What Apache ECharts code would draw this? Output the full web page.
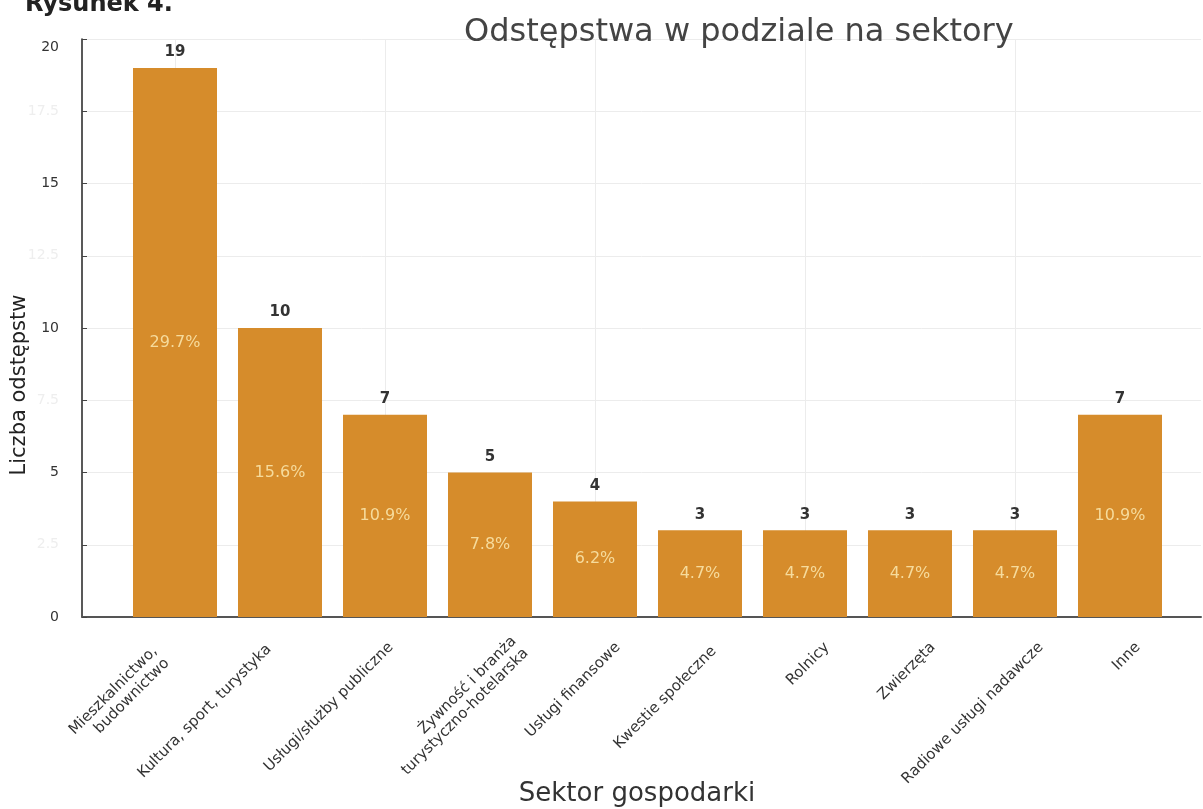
<!DOCTYPE html>
<html>
<head>
<meta charset="utf-8">
<script src="https://cdn.jsdelivr.net/npm/echarts@6/dist/echarts.min.js"></script>
<style>
  html, body { margin: 0; padding: 0; background: #ffffff; }
  #chart { width: 1203px; height: 809px; }
</style>
</head>
<body>
<div id="chart"></div>
<script>
// Sector categories (x axis)
const categories = [
  'Mieszkalnictwo,\nbudownictwo',
  'Kultura, sport, turystyka',
  'Usługi/służby publiczne',
  'Żywność i branża\nturystyczno-hotelarska',
  'Usługi finansowe',
  'Kwestie społeczne',
  'Rolnicy',
  'Zwierzęta',
  'Radiowe usługi nadawcze',
  'Inne'
];
// Number of derogations per sector
const counts = [19, 10, 7, 5, 4, 3, 3, 3, 3, 7];
// Share of all derogations, in percent (as printed inside the bars)
const shares = [29.7, 15.6, 10.9, 7.8, 6.2, 4.7, 4.7, 4.7, 4.7, 10.9];
// Value axis range and step
const yMin = 0;
const yMax = 20;
const yStep = 2.5;

const FONT = 'DejaVu Sans';
const BAR_COLOR = '#D68C2B';
const GRID_LINE = '#ececec';

// Layout
const plotTop = 39;
const plotBottom = 192;
const barLeft = 122.5;
const barRight = 30.5;
const labelShift = 30;
// Per-label nudge of the rotated category labels: [dx, dy] of the label end from its tick, px
const labelNudge = [[-14, 10], [-11, 2], [6, 0], [30, 0], [23, 0], [14, 4], [22, 0], [23, 0], [26, 0], [18, 0]];

// Split a screen-space nudge into the rotated label frame (45deg, right-aligned):
// along = shift along the baseline, across = shift perpendicular to it (positive = down)
const K = Math.SQRT1_2;
const nudgeFrame = labelNudge.map(([x, y]) => {
  const dx = x - labelShift;
  return { along: K * (dx - y), across: K * (dx + y) };
});

// Category items: trailing padding pulls the label back along its baseline
const labelItems = categories.map((name, i) => ({
  value: name,
  textStyle: { padding: [0, Math.max(0, -nudgeFrame[i].along), 0, 0] }
}));

// Rich styles: the text itself plus one spacer line per label for the perpendicular shift
const labelRich = {
  t: { fontFamily: FONT, fontSize: 15, color: '#333', lineHeight: 17 }
};
nudgeFrame.forEach((f, i) => {
  labelRich['s' + i] = { fontSize: 1, lineHeight: Math.max(0.01, 2 * Math.abs(f.across)) };
});

function labelFormatter(value, index) {
  const lines = String(value).split('\n').map(s => '{t|' + s + '}');
  const f = nudgeFrame[index];
  if (f.across < 0) lines.push('{s' + index + '| }');
  else if (f.across > 0) lines.unshift('{s' + index + '| }');
  return lines.join('\n');
}

// Value-axis labels: multiples of 5 in dark grey, half steps barely visible,
// the top label sits a little below its gridline
function valueFormatter(v) {
  if (v === yMax) return '{gap| }\n{main|' + v + '}';
  return v % 5 === 0 ? '{main|' + v + '}' : '{faint|' + v + '}';
}

const chart = echarts.init(document.getElementById('chart'), null, { renderer: 'canvas' });

const gridBase = { top: plotTop, bottom: plotBottom, containLabel: false, outerBoundsMode: 'none' };

chart.setOption({
  animation: false,
  backgroundColor: '#ffffff',
  title: {
    text: 'Odstępstwa w podziale na sektory',
    left: 459,
    top: 12,
    textStyle: { fontFamily: FONT, fontSize: 32, fontWeight: 'normal', color: '#444' }
  },
  graphic: [
    {
      type: 'text',
      x: 25,
      y: 17,
      style: {
        text: 'Rysunek 4.',
        font: 'bold 24px "DejaVu Sans"',
        fill: '#222',
        verticalAlign: 'bottom'
      }
    },
    {
      type: 'text',
      x: 20,
      y: 385,
      rotation: Math.PI / 2,
      style: {
        text: 'Liczba odstępstw',
        font: '21px "DejaVu Sans"',
        fill: '#222',
        align: 'center',
        verticalAlign: 'middle'
      }
    }
  ],
  grid: [
    // bars
    Object.assign({ left: barLeft, right: barRight }, gridBase),
    // axes frame and horizontal grid
    Object.assign({ left: 82, right: 2 }, gridBase),
    // category labels
    Object.assign({ left: barLeft + labelShift, right: barRight - labelShift }, gridBase)
  ],
  xAxis: [
    {
      type: 'category',
      gridIndex: 0,
      data: categories,
      boundaryGap: true,
      axisLine: { show: false },
      axisTick: { show: true, inside: true, alignWithLabel: true, length: 5, lineStyle: { color: '#444' } },
      axisLabel: { show: false },
      splitLine: { show: true, alignWithLabel: true, lineStyle: { color: GRID_LINE, width: 1 } }
    },
    {
      type: 'value',
      gridIndex: 1,
      min: 0,
      max: 1,
      axisLine: { show: true, onZero: false, lineStyle: { color: '#555', width: 2 } },
      axisTick: { show: false },
      axisLabel: { show: false },
      splitLine: { show: false },
      name: 'Sektor gospodarki',
      nameLocation: 'middle',
      nameGap: 164,
      nameTextStyle: { fontFamily: FONT, fontSize: 26, color: '#333', padding: [0, 9, 0, 0] }
    },
    {
      type: 'category',
      gridIndex: 2,
      data: labelItems,
      axisLine: { show: false },
      axisTick: { show: false },
      splitLine: { show: false },
      axisLabel: {
        interval: 0,
        rotate: 45,
        margin: 28,
        fontFamily: FONT,
        fontSize: 15,
        color: '#333',
        formatter: labelFormatter,
        rich: labelRich
      }
    }
  ],
  yAxis: [
    { type: 'value', gridIndex: 0, min: yMin, max: yMax, show: false },
    {
      type: 'value',
      gridIndex: 1,
      min: yMin,
      max: yMax,
      interval: yStep,
      axisLine: { show: true, lineStyle: { color: '#222', width: 1.5 } },
      axisTick: { show: true, inside: true, length: 5, lineStyle: { color: '#444' } },
      axisLabel: {
        margin: 23,
        fontFamily: FONT,
        fontSize: 14,
        color: '#333',
        formatter: valueFormatter,
        rich: {
          main: { color: '#333', fontFamily: FONT, fontSize: 14, lineHeight: 16 },
          faint: { color: '#eeeeee', fontFamily: FONT, fontSize: 14 },
          gap: { fontSize: 1, lineHeight: 16 }
        }
      },
      splitLine: { show: true, lineStyle: { color: GRID_LINE, width: 1 } }
    },
    { type: 'value', gridIndex: 2, min: yMin, max: yMax, show: false }
  ],
  series: [
    {
      type: 'bar',
      xAxisIndex: 0,
      yAxisIndex: 0,
      data: counts,
      barWidth: 84,
      itemStyle: { color: BAR_COLOR },
      label: {
        show: true,
        position: 'top',
        distance: 8,
        fontFamily: FONT,
        fontWeight: 'bold',
        fontSize: 15,
        color: '#333'
      },
      z: 3
    },
    {
      type: 'bar',
      xAxisIndex: 0,
      yAxisIndex: 0,
      data: counts,
      barWidth: 84,
      barGap: '-100%',
      itemStyle: { color: 'rgba(0,0,0,0)' },
      label: {
        show: true,
        position: 'inside',
        formatter: p => shares[p.dataIndex] + '%',
        fontFamily: FONT,
        fontSize: 16,
        color: '#F6DB9C'
      },
      z: 4
    }
  ]
});
</script>
</body>
</html>
